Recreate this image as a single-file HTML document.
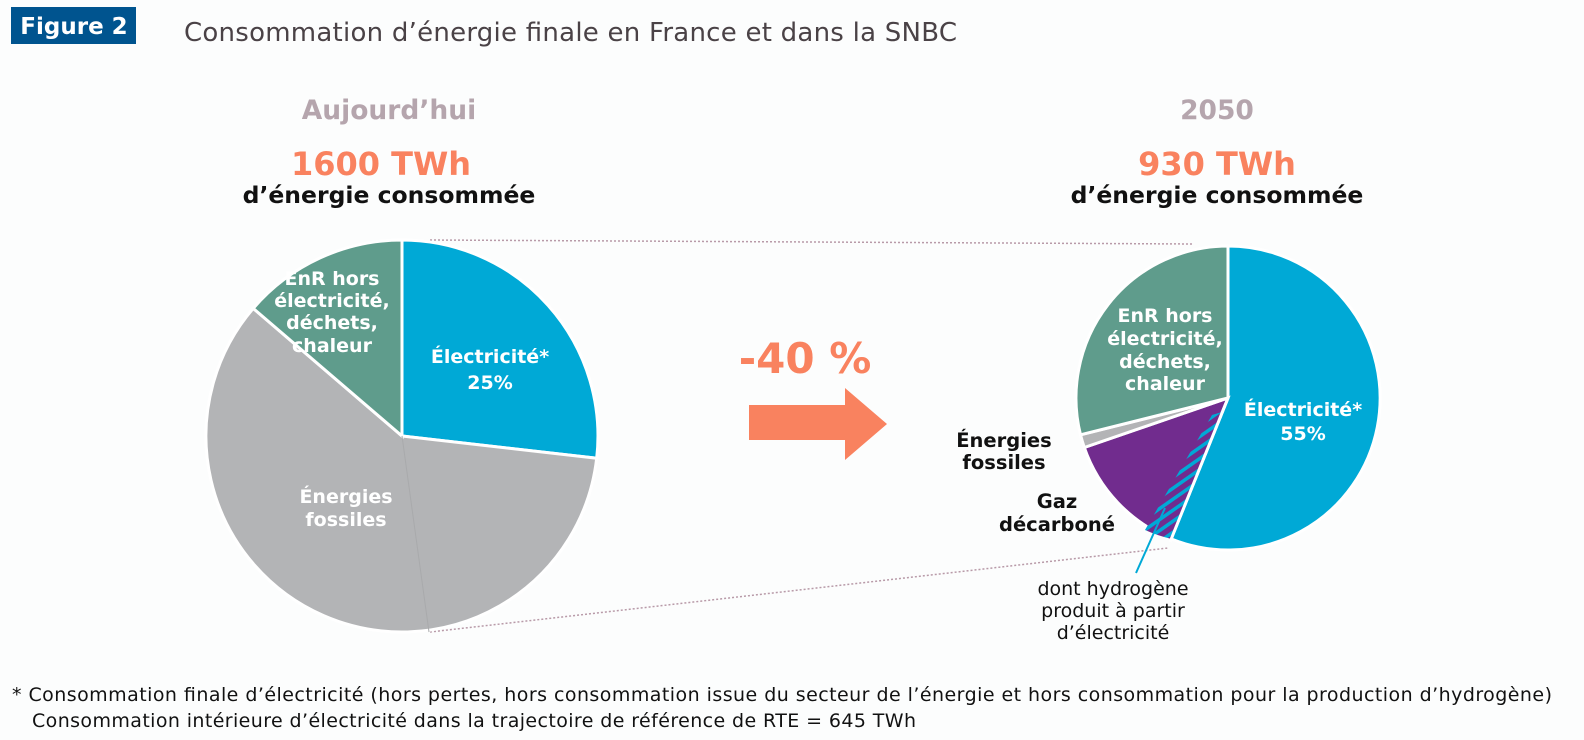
<!DOCTYPE html>
<html><head><meta charset="utf-8"><style>
html,body{margin:0;padding:0;background:#fcfdfd;overflow:hidden;width:1584px;height:740px;}
svg{display:block;font-family:"DejaVu Sans","Liberation Sans",sans-serif;}
</style></head><body>
<svg width="1584" height="740" viewBox="0 0 1584 740">
<defs>
<pattern id="h" patternUnits="userSpaceOnUse" width="9" height="9" patternTransform="rotate(-35)">
<rect width="9" height="9" fill="#712c8e"/><rect width="9" height="3.5" fill="#00a9d6"/>
</pattern>
</defs>
<rect x="11" y="7" width="125" height="37" fill="#00548f"/>
<text x="74" y="34" text-anchor="middle" font-size="23" font-weight="bold" fill="#fff">Figure 2</text>
<text x="184" y="41" font-size="26" fill="#4a4246" textLength="773">Consommation d’énergie finale en France et dans la SNBC</text>

<text x="389" y="119" text-anchor="middle" font-size="26.5" font-weight="bold" fill="#b5a5ad">Aujourd’hui</text>
<text x="381" y="175" text-anchor="middle" font-size="32" font-weight="bold" fill="#f9825f">1600 TWh</text>
<text x="389" y="203" text-anchor="middle" font-size="23.5" font-weight="bold" fill="#111">d’énergie consommée</text>

<text x="1217" y="119" text-anchor="middle" font-size="26.5" font-weight="bold" fill="#b5a5ad">2050</text>
<text x="1217" y="175" text-anchor="middle" font-size="32" font-weight="bold" fill="#f9825f">930 TWh</text>
<text x="1217" y="203" text-anchor="middle" font-size="23.5" font-weight="bold" fill="#111">d’énergie consommée</text>

<line x1="430" y1="240" x2="1192" y2="244" stroke="#b89aa8" stroke-width="1.5" stroke-dasharray="2,2"/>
<line x1="430" y1="632" x2="1168" y2="548" stroke="#b89aa8" stroke-width="1.5" stroke-dasharray="2,2"/>

<!-- left pie -->
<g stroke="#fff" stroke-width="3">
<path d="M402,436 L402,240 A196,196 0 0 1 596.7,458.2 Z" fill="#00a9d6"/>
<path d="M402,436 L596.7,458.2 A196,196 0 1 1 253.2,308.4 Z" fill="#b3b4b6"/>
<path d="M402,436 L253.2,308.4 A196,196 0 0 1 402,240 Z" fill="#5f9c8c"/>
</g>
<line x1="402" y1="436" x2="429" y2="632" stroke="#a9aaac" stroke-width="1"/>
<g font-weight="bold" fill="#fff" font-size="19" text-anchor="middle">
<text x="332" y="285">EnR hors</text><text x="332" y="307">électricité,</text><text x="332" y="329">déchets,</text><text x="332" y="352">chaleur</text>
<text x="490" y="363">Électricité*</text><text x="490" y="389">25%</text>
<text x="346" y="503">Énergies</text><text x="346" y="526">fossiles</text>
</g>

<text x="805" y="373" text-anchor="middle" font-size="42" font-weight="bold" fill="#f9825f">-40 %</text>
<path d="M749,405 H845 V388 L887,424 L845,460 V440 H749 Z" fill="#f9825f"/>

<!-- right pie -->
<g stroke="#fff" stroke-width="3">
<path d="M1228,398 L1228,246 A152,152 0 1 1 1171.1,538.9 Z" fill="#00a9d6"/>
<path d="M1228,398 L1171.1,538.9 A152,152 0 0 1 1084.3,447.5 Z" fill="#712c8e"/>
<path d="M1228,398 L1084.3,447.5 A152,152 0 0 1 1080.5,434.8 Z" fill="#b3b4b6"/>
<path d="M1228,398 L1080.5,434.8 A152,152 0 0 1 1228,246 Z" fill="#5f9c8c"/>
</g>
<path d="M1222,412 L1171.1,538.9 A152,152 0 0 1 1145,530 L1212,415 Z" fill="url(#h)"/>
<line x1="1228" y1="398" x2="1170" y2="542" stroke="#fff" stroke-width="3"/>
<line x1="1165" y1="508" x2="1136" y2="573" stroke="#00a9d6" stroke-width="2"/>
<g font-weight="bold" fill="#fff" font-size="19" text-anchor="middle">
<text x="1165" y="322">EnR hors</text><text x="1165" y="345">électricité,</text><text x="1165" y="368">déchets,</text><text x="1165" y="390">chaleur</text>
<text x="1303" y="416">Électricité*</text><text x="1303" y="440">55%</text>
</g>
<g font-weight="bold" fill="#111" font-size="19.5" text-anchor="middle">
<text x="1004" y="447">Énergies</text><text x="1004" y="469">fossiles</text>
<text x="1057" y="508">Gaz</text><text x="1057" y="531">décarboné</text>
</g>
<g fill="#111" font-size="19" text-anchor="middle">
<text x="1113" y="595">dont hydrogène</text><text x="1113" y="617">produit à partir</text><text x="1113" y="639">d’électricité</text>
</g>
<g fill="#111" font-size="19">
<text x="12" y="701" textLength="1540">* Consommation finale d’électricité (hors pertes, hors consommation issue du secteur de l’énergie et hors consommation pour la production d’hydrogène)</text>
<text x="32" y="727" textLength="884">Consommation intérieure d’électricité dans la trajectoire de référence de RTE = 645 TWh</text>
</g>
</svg>
</body></html>
